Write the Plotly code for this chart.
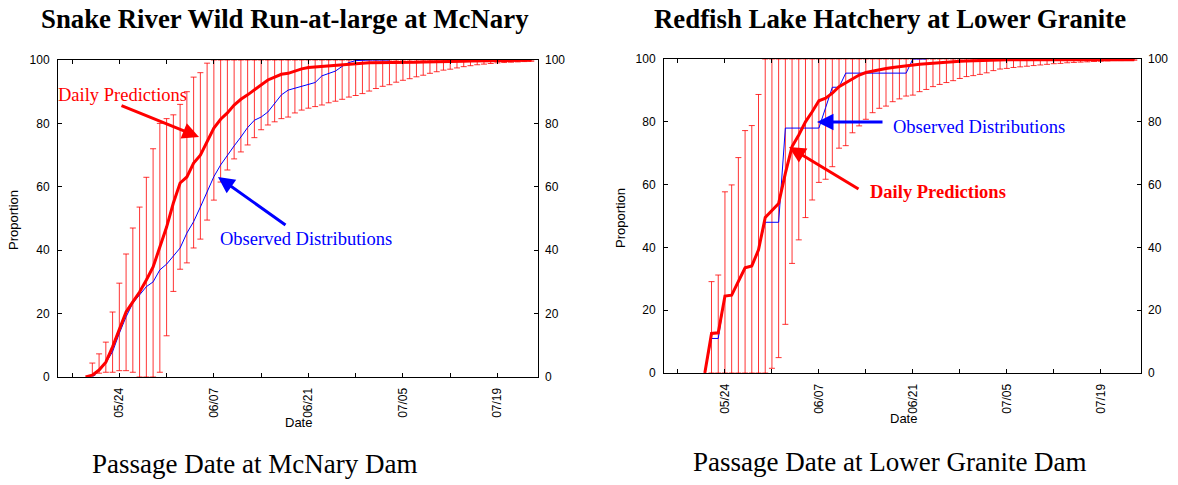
import pandas as pd
import plotly.graph_objects as go

# ---------------- data ----------------
BASE_DATE = "2001-05-24"  # day 0 = 05/24

# Snake River Wild Run-at-large at McNary
mc_pred_first_day = -5
mc_pred = [0, 0.6, 2.2, 4.7, 9.5, 14.8, 20.5, 23.7, 26.8, 30.6, 34.7, 41, 47.3, 54.9, 61.2,
           63.1, 67.5, 70, 74.1, 78.5, 81.3, 83.3, 85.8, 87.6, 89, 90.5, 92, 93.7, 94.6, 95.5,
           95.8, 96.6, 97.2, 97.6, 97.8, 98.0, 98.2, 98.4, 98.6, 98.7, 98.9, 99.0,
           99.1, 99.1, 99.1, 99.2, 99.2, 99.3, 99.3, 99.3, 99.4, 99.4, 99.5, 99.5, 99.6,
           99.6, 99.6, 99.7, 99.7, 99.7, 99.8, 99.8, 99.8, 99.9, 99.9, 99.9, 99.9]
mc_bar_first_day = -4
mc_upper = [4.4, 7.3, 11, 20.5, 29.6, 38.8, 47, 53.6, 63, 72, 80, 81.5, 82.7, 86, 90, 94.6, 96, 99,
            100, 100, 100, 100, 100, 100, 100, 100, 100, 100, 100, 100, 100, 100, 100, 100, 100,
            100, 100, 100, 100, 100, 100, 100, 100, 100, 100, 100, 100, 100, 100, 100, 100, 100,
            100, 100, 100, 100, 100, 100, 100, 100, 100, 100, 100, 100, 100, 100]
mc_lower = [0.5, 1.2, 1.5, 1.5, 2, 2, 1.5, 0, 0, 0, 1.5, 13, 27, 34, 36, 40.7, 43.5, 49.5,
            55.8, 61.5, 65.3, 68.8, 71, 73.2, 75.5, 78, 79.5, 80.5, 81.5, 82, 83.3, 84.2, 84.8,
            85.3, 85.8, 86.5, 87, 87.6, 88.3, 88.8, 89.4, 90.2, 91, 91.7, 92.2, 93, 93.6, 94.1,
            94.7, 95.2, 95.8, 96.3, 96.8, 97.1, 97.5, 97.9, 98.2, 98.5, 98.7, 98.9, 99.1, 99.2,
            99.3, 99.4, 99.5, 99.6]
mc_obs_first_day = -4
mc_obs = [0, 2, 4.4, 8, 13.8, 19, 23.3, 26, 28.5, 30, 33.8, 35.6, 38.2, 40.7, 45.4, 49, 53.6,
          58.4, 63.2, 66.9, 70, 72.9, 75.7, 78.7, 81, 82, 83.6, 86.3, 89, 90.5, 91.1, 91.5, 92.3,
          92.9, 95, 95.8, 96.5, 98, 99.2, 99.8, 100, 100, 100, 100, 100]

# Redfish Lake Hatchery at Lower Granite
lg_pred_first_day = -3
lg_pred = [0, 12.6, 12.8, 24.5, 24.8, 29.4, 33.5, 34.1, 39.2, 49.5, 51.9, 54, 63.6, 72.1, 75.8,
           80, 83.2, 86.7, 87.5, 89.1, 91.2, 92.5, 93.8, 94.9, 95.7, 96.2, 96.7, 97.0, 97.3,
           97.6, 97.9, 98.1, 98.3, 98.5, 98.7, 98.9, 99.1, 99.2, 99.3, 99.4, 99.5, 99.6, 99.7,
           99.8, 99.8, 99.8, 99.8, 99.8, 99.8, 99.8, 99.8, 99.8, 99.8, 99.8, 99.8, 99.8, 99.8,
           99.8, 99.8, 99.8, 99.8, 99.8, 99.8, 99.8, 99.8]
lg_bar_first_day = -2
lg_upper = [29.1, 31.2, 57.7, 59.9, 68.6, 77.2, 78.8, 88.7,
            100, 100, 100, 100, 100, 100, 100, 100, 100, 100, 100, 100, 100, 100, 100, 100, 100,
            100, 100, 100, 100, 100, 100, 100, 100, 100, 100, 100, 100, 100, 100, 100, 100, 100,
            100, 100, 100, 100, 100, 100, 100, 100, 100, 100, 100, 100, 100, 100, 100, 100, 100,
            100, 100, 100, 100, 100]
lg_lower = [0, 0, 0, 0, 0, 0, 0, 0, 0, 1.5, 4.9, 15.5, 34.9, 42.4, 49.5, 55.1, 60.7, 61.7, 65.7,
            71.6, 72.4, 76.5, 78.7, 80.8, 82.9, 84.3, 85, 86.4, 87.3, 88.2, 88.5, 89.6, 90.3, 91.2,
            91.9, 92.5, 93.1, 93.8, 94.4, 94.7, 95.1, 95.6, 96.3, 96.8, 97.0, 97.3, 97.5, 97.7,
            97.9, 98.1, 98.3, 98.5, 98.6, 98.8, 98.9, 99.0, 99.1, 99.2, 99.3, 99.4, 99.5, 99.5,
            99.6, 99.6]
lg_obs_first_day = -3
lg_obs = [0, 11, 11, 24.5, 25, 29.5, 33.8, 34, 39.5, 48, 48, 48, 78, 78, 78, 78, 78, 78, 84.5,
          91, 91, 95.5, 95.5, 95.5, 95.5, 95.5, 95.5, 95.5, 95.5, 95.5, 95.5, 100, 100, 100]

TITLES = ["Snake River Wild Run-at-large at McNary", "Redfish Lake Hatchery at Lower Granite"]
SUBTITLES = ["Passage Date at McNary Dam", "Passage Date at Lower Granite Dam"]
X_RANGE = ["2001-05-14 22:00", "2001-07-25 00:00"]
Y_TICKS = [0, 20, 40, 60, 80, 100]


def day_dates(first_day, n):
    base = pd.Timestamp(BASE_DATE)
    return [base + pd.Timedelta(days=first_day + i) for i in range(n)]


W, H = 1178, 485
DAY_MS = 86400000
RED = "#ff0000"
BLUE = "#0000ff"
SANS = "Liberation Sans, Arial, sans-serif"
SERIF = "Liberation Serif, Times New Roman, serif"

fig = go.Figure()


def add_panel(xa, ya, pred_fd, pred, bar_fd, upper, lower, obs_fd, obs):
    n_bar = len(upper)
    bar_mean = pred[bar_fd - pred_fd: bar_fd - pred_fd + n_bar]
    fig.add_trace(go.Scatter(
        x=day_dates(bar_fd, n_bar), y=bar_mean, mode="markers",
        marker=dict(size=1, opacity=0, color=RED),
        error_y=dict(type="data", symmetric=False,
                     array=[u - m for u, m in zip(upper, bar_mean)],
                     arrayminus=[m - l for m, l in zip(bar_mean, lower)],
                     color="rgba(255,0,0,0.8)", thickness=1, width=3),
        xaxis=xa, yaxis=ya, showlegend=False, hoverinfo="skip"))
    fig.add_trace(go.Scatter(
        x=day_dates(obs_fd, len(obs)), y=obs, mode="lines",
        line=dict(color=BLUE, width=1), xaxis=xa, yaxis=ya, showlegend=False))
    fig.add_trace(go.Scatter(
        x=day_dates(pred_fd, len(pred)), y=pred, mode="lines",
        line=dict(color=RED, width=3), xaxis=xa, yaxis=ya, showlegend=False))


add_panel("x", "y", mc_pred_first_day, mc_pred, mc_bar_first_day, mc_upper, mc_lower,
          mc_obs_first_day, mc_obs)
add_panel("x2", "y3", lg_pred_first_day, lg_pred, lg_bar_first_day, lg_upper, lg_lower,
          lg_obs_first_day, lg_obs)

tickfont = dict(family=SANS, size=12, color="black")


def xaxis_def(domain, anchor):
    return dict(domain=domain, anchor=anchor, type="date", range=X_RANGE, automargin=False,
                tick0=BASE_DATE, dtick=14 * DAY_MS, tickformat="%m/%d", tickangle=-90,
                ticks="inside", ticklen=4, tickcolor="black", showline=True,
                linecolor="black", linewidth=1, mirror="ticks", showgrid=False,
                zeroline=False, tickfont=tickfont, ticklabelstandoff=5,
                minor=dict(tick0=BASE_DATE, dtick=7 * DAY_MS, ticks="inside", ticklen=4,
                           tickcolor="black", showgrid=False))


def yaxis_def(domain, anchor):
    return dict(domain=domain, anchor=anchor, range=[0, 100], tickvals=Y_TICKS,
                automargin=False, ticklabelstandoff=5,
                ticks="inside", ticklen=4, tickcolor="black", showline=True,
                linecolor="black", linewidth=1, mirror="ticks", showgrid=False,
                zeroline=False, tickfont=tickfont)


def yaxis_right(overlay, anchor):
    return dict(overlaying=overlay, anchor=anchor, side="right", range=[0, 100],
                automargin=False, ticklabelstandoff=6,
                tickvals=Y_TICKS, ticks="", showline=False, showgrid=False, zeroline=False,
                tickfont=tickfont)


L_X = [58 / W, 538 / W]
L_Y = [1 - 377 / H, 1 - 60 / H]
R_X = [664 / W, 1141 / W]
R_Y = [1 - 373 / H, 1 - 59 / H]

fig.update_layout(
    width=W, height=H, margin=dict(l=0, r=0, t=0, b=0, autoexpand=False),
    paper_bgcolor="white", plot_bgcolor="white", showlegend=False,
    xaxis=xaxis_def(L_X, "y"), yaxis=yaxis_def(L_Y, "x"), yaxis2=yaxis_right("y", "x"),
    xaxis2=xaxis_def(R_X, "y3"), yaxis3=yaxis_def(R_Y, "x2"), yaxis4=yaxis_right("y3", "x2"),
)
# dummy traces so overlay axes render
fig.add_trace(go.Scatter(x=[None], y=[None], xaxis="x", yaxis="y2", showlegend=False))
fig.add_trace(go.Scatter(x=[None], y=[None], xaxis="x2", yaxis="y4", showlegend=False))


def px(xp, yp):
    return xp / W, 1 - yp / H


def text_ann(xp, yp, text, size, color="black", family=SERIF, angle=0):
    x, y = px(xp, yp)
    return dict(x=x, y=y, xref="paper", yref="paper", text=text, showarrow=False,
                xanchor="center", yanchor="middle", textangle=angle,
                font=dict(family=family, size=size, color=color))


def arrow_ann(tip_xp, tip_yp, tail_xp, tail_yp, color):
    x, y = px(tip_xp, tip_yp)
    return dict(x=x, y=y, xref="paper", yref="paper", text="", showarrow=True,
                ax=tail_xp - tip_xp, ay=tail_yp - tip_yp, arrowhead=2, arrowsize=1.1,
                arrowwidth=3, arrowcolor=color, standoff=0)


anns = [
    text_ann(285, 19, "<b>" + TITLES[0] + "</b>", 26.8),
    text_ann(890, 19, "<b>" + TITLES[1] + "</b>", 26.8),
    text_ann(254, 464, SUBTITLES[0], 27),
    text_ann(890, 462, SUBTITLES[1], 27),
    text_ann(14, 220, "Proportion", 13, family=SANS, angle=-90),
    text_ann(621, 218, "Proportion", 13, family=SANS, angle=-90),
    text_ann(298, 422, "Date", 13, family=SANS),
    text_ann(903, 418, "Date", 13, family=SANS),
    text_ann(122, 95, "Daily Predictions", 18.5, color=RED),
    text_ann(306, 239, "Observed Distributions", 18.5, color=BLUE),
    text_ann(979, 127, "Observed Distributions", 18.5, color=BLUE),
    text_ann(938, 192, "<b>Daily Predictions</b>", 18.5, color=RED),
    arrow_ann(199, 137, 120, 105, RED),
    arrow_ann(218, 177, 287, 226, BLUE),
    arrow_ann(817, 122, 884, 122, BLUE),
    arrow_ann(789, 147, 860, 190, RED),
]
fig.update_layout(annotations=anns)

fig.write_html("out.html", config={"displayModeBar": False},
               post_script="document.body.style.margin='0';document.body.style.overflow='hidden';")
